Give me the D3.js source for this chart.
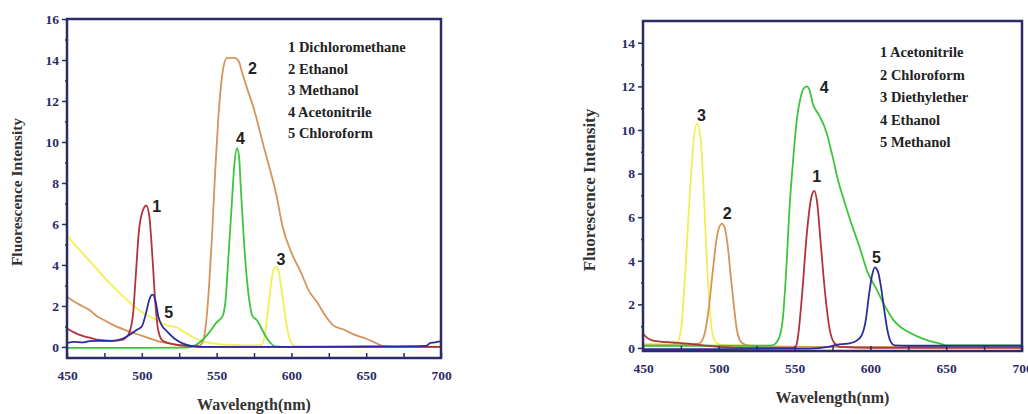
<!DOCTYPE html>
<html>
<head>
<meta charset="utf-8">
<script src="https://cdn.jsdelivr.net/npm/d3@7"></script>
<style>
  body { margin: 0; background: #fff; }
  svg { display: block; }
  .tick text { font-family: "Liberation Serif", serif; font-weight: bold; font-size: 13.5px; fill: #2b2b66; }
</style>
</head>
<body>
<div id="chart"></div>
<script>
// wavelength (nm), intensity pairs

// left panel
const leftDichloromethane = [[450,0.9],[455,0.7],[460,0.55],[465,0.45],[470,0.35],[480,0.3],[487,0.35],[491,0.6],[494,1.5],[496,3.5],[498,5.6],[500,6.5],[503,6.9],[505,6.4],[507,4.5],[509,2.2],[511,0.8],[514,0.3],[520,0.15],[530,0.05],[540,0],[600,0],[700,0]];
const leftEthanol = [[450,2.45],[455,2.2],[460,2.0],[465,1.8],[470,1.5],[475,1.3],[480,1.1],[490,0.8],[500,0.55],[510,0.3],[520,0.15],[530,0.05],[538,0.05],[541,0.3],[543,1.2],[545,3],[547,5.5],[549,8.5],[551,11],[553,12.8],[555,13.8],[557,14.1],[562,14.1],[565,13.9],[567,13.4],[570,12.7],[575,11.6],[580,10.2],[584,9.1],[590,7.4],[594,5.9],[600,4.6],[606,3.7],[612,2.7],[617,2.2],[622,1.6],[628,1.05],[635,0.85],[642,0.6],[650,0.4],[655,0.25],[661,0.05],[670,0],[700,0]];
const leftMethanol = [[450,5.45],[455,5.0],[460,4.6],[470,3.8],[480,3.0],[490,2.3],[500,1.7],[510,1.3],[517,1.05],[524,0.93],[530,0.65],[535,0.45],[540,0.3],[550,0.15],[560,0.1],[570,0.08],[580,0.1],[582,0.5],[585,2.2],[587,3.4],[589,3.9],[591,3.8],[593,3.0],[595,2.0],[597,1.0],[599,0.35],[602,0.05],[610,0.03],[700,0.03]];
const leftAcetonitrile = [[450,-0.05],[500,-0.05],[530,-0.03],[535,0.05],[540,0.3],[545,0.7],[550,1.2],[554,1.5],[556,2.3],[558,4.5],[560,6.8],[562,9.0],[563.5,9.7],[565,9.3],[566,8],[568,5.5],[570,3.5],[572,2.2],[574,1.5],[577,1.3],[580,0.9],[583,0.5],[586,0.2],[589,0.03],[600,0],[700,0]];
const leftChloroform = [[450,0.2],[455,0.25],[460,0.22],[465,0.28],[470,0.3],[480,0.3],[487,0.4],[492,0.6],[497,0.85],[500,1.0],[503,1.7],[505,2.3],[507,2.55],[509,2.3],[511,1.5],[513,1.1],[517,0.75],[522,0.4],[528,0.15],[535,0.03],[545,0],[600,0],[650,0.02],[690,0.05],[693,0.2],[696,0.22],[700,0.28]];

// right panel
const rightAcetonitrile = [[450,0.65],[453,0.45],[456,0.35],[460,0.3],[470,0.25],[480,0.2],[490,0.12],[500,0.05],[520,0],[550,0],[552,0.4],[555,2.5],[558,5.2],[561,6.9],[563,7.2],[565,6.6],[567,5],[570,2.6],[573,0.9],[576,0.25],[580,0.05],[600,0],[700,0]];
const rightChloroform = [[450,0.12],[470,0.12],[480,0.15],[487,0.2],[490,0.5],[493,1.6],[496,3.5],[499,5.2],[502,5.7],[504,5.5],[506,4.6],[508,3.2],[510,1.9],[512,0.8],[515,0.25],[520,0.1],[550,0.05],[580,0.05],[700,0.05]];
const rightDiethylether = [[450,0.2],[465,0.18],[472,0.2],[475,0.8],[477,2.5],[479,4.8],[481,7.2],[483,9.2],[485.5,10.3],[488,9.6],[490,7.2],[492,4.2],[494,1.8],[496,0.6],[499,0.2],[505,0.12],[530,0.1],[560,0.05],[700,0.02]];
const rightEthanol = [[450,0.1],[500,0.1],[520,0.1],[535,0.12],[539,0.35],[542,1.2],[544,3],[547,6.8],[549,8.6],[551.5,10.5],[554,11.5],[556,11.9],[558,12.0],[560,11.8],[562,11.2],[566,10.7],[571,9.9],[575,8.8],[579,7.6],[582,6.9],[587,5.8],[593,4.6],[598,3.5],[604,2.7],[609,2.0],[615,1.3],[620,0.95],[626,0.7],[632,0.5],[640,0.3],[646,0.2],[650,0.12],[700,0.12]];
const rightMethanol = [[450,-0.05],[500,-0.05],[560,-0.03],[572,0.05],[578,0.15],[585,0.2],[590,0.3],[594,0.55],[597,1.3],[599,2.4],[601,3.3],[603,3.7],[605,3.5],[607,2.8],[609,1.8],[611,0.9],[613,0.35],[616,0.12],[625,0.1],[700,0.1]];

const leftLegend = ["1 Dichloromethane", "2 Ethanol", "3 Methanol", "4 Acetonitrile", "5 Chloroform"];
const rightLegend = ["1 Acetonitrile", "2 Chloroform", "3 Diethylether", "4 Ethanol", "5 Methanol"];

const xTicks = [450, 500, 550, 600, 650, 700];
const leftYTicks = [0, 2, 4, 6, 8, 10, 12, 14, 16];
const rightYTicks = [0, 2, 4, 6, 8, 10, 12, 14];

const colors = {
  red: "#b0343a",
  tan: "#d4945a",
  yellow: "#f2ee55",
  green: "#3ec43e",
  blue: "#2c2ca0"
};
const frameColor = "#2b2b66";

const svg = d3.select("#chart").append("svg")
  .attr("width", 1028)
  .attr("height", 414);

function drawPanel(cfg) {
  const x = d3.scaleLinear().domain([450, 700]).range([cfg.left, cfg.right]);
  const y = d3.scaleLinear().domain(cfg.yDomain).range([cfg.bottom, cfg.top]);
  const g = svg.append("g");

  // clip so curves stay inside the frame
  const clipId = "clip-" + cfg.id;
  g.append("clipPath").attr("id", clipId)
    .append("rect")
    .attr("x", cfg.left).attr("y", cfg.top)
    .attr("width", cfg.right - cfg.left).attr("height", cfg.bottom - cfg.top);

  const line = d3.line()
    .x(d => x(d[0]))
    .y(d => y(d[1]))
    .curve(d3.curveMonotoneX);

  const plot = g.append("g").attr("clip-path", `url(#${clipId})`);
  cfg.series.forEach(s => {
    plot.append("path")
      .datum(s.data)
      .attr("fill", "none")
      .attr("stroke", s.color)
      .attr("stroke-width", 1.8)
      .attr("stroke-linejoin", "round")
      .attr("d", line);
  });

  // x axis (ticks point inward)
  const xAxis = g.append("g")
    .attr("transform", `translate(0,${cfg.bottom})`)
    .call(d3.axisBottom(x).tickValues(d3.range(450, 701, 25)).tickSize(-5).tickPadding(12)
      .tickFormat(d => xTicks.includes(d) ? d : ""));
  xAxis.selectAll(".tick line").attr("stroke", frameColor).attr("stroke-width", 1.5);

  // y axis (ticks point outward)
  const yAxis = g.append("g")
    .attr("transform", `translate(${cfg.left},0)`)
    .call(d3.axisLeft(y).tickValues(d3.range(0, cfg.yTicks[cfg.yTicks.length - 1] + 1, 1))
      .tickSize(5).tickPadding(3)
      .tickFormat(d => cfg.yTicks.includes(d) ? d : ""));
  yAxis.selectAll(".tick line").attr("stroke", frameColor).attr("stroke-width", 1.5)
    .attr("x2", d => cfg.yTicks.includes(d) ? -5 : -2);

  g.selectAll(".domain").remove();

  // frame
  g.append("rect")
    .attr("x", cfg.left).attr("y", cfg.top)
    .attr("width", cfg.right - cfg.left).attr("height", cfg.bottom - cfg.top)
    .attr("fill", "none")
    .attr("stroke", frameColor)
    .attr("stroke-width", 2.5);

  // axis titles
  g.append("text")
    .attr("x", (cfg.left + cfg.right) / 2)
    .attr("y", cfg.xTitleY)
    .attr("text-anchor", "middle")
    .style("font-family", "Liberation Serif, serif")
    .style("font-weight", "bold")
    .style("font-size", "16px")
    .style("fill", "#333")
    .text("Wavelength(nm)");

  g.append("text")
    .attr("transform", `translate(${cfg.yTitleX},${cfg.yTitleMid}) rotate(-90)`)
    .attr("text-anchor", "middle")
    .style("font-family", "Liberation Serif, serif")
    .style("font-weight", "bold")
    .style("font-size", cfg.yTitleSize)
    .style("fill", "#333")
    .text("Fluorescence Intensity");

  // legend
  g.selectAll(".legend-item")
    .data(cfg.legend)
    .join("text")
    .attr("x", cfg.legendX)
    .attr("y", (d, i) => cfg.legendY + i * cfg.legendStep)
    .style("font-family", "Liberation Serif, serif")
    .style("font-weight", "bold")
    .style("font-size", "14.5px")
    .style("fill", "#222")
    .text(d => d);

  // peak numbers
  g.selectAll(".peak")
    .data(cfg.peaks)
    .join("text")
    .attr("x", d => x(d.nm))
    .attr("y", d => y(d.v))
    .attr("text-anchor", "middle")
    .style("font-family", "Liberation Sans, sans-serif")
    .style("font-weight", "bold")
    .style("font-size", "16px")
    .style("fill", "#222")
    .text(d => d.label);
}

drawPanel({
  id: "left",
  left: 67, right: 441, top: 19, bottom: 358,
  yDomain: [-0.54, 16],
  yTicks: leftYTicks,
  xTitleY: 410,
  yTitleX: 22, yTitleMid: 192, yTitleSize: "15.5px",
  legend: leftLegend, legendX: 288, legendY: 52, legendStep: 21.5,
  series: [
    { data: leftMethanol, color: colors.yellow },
    { data: leftEthanol, color: colors.tan },
    { data: leftAcetonitrile, color: colors.green },
    { data: leftDichloromethane, color: colors.red },
    { data: leftChloroform, color: colors.blue }
  ],
  peaks: [
    { label: "1", nm: 510, v: 6.6 },
    { label: "2", nm: 574, v: 13.3 },
    { label: "3", nm: 593, v: 4.0 },
    { label: "4", nm: 566, v: 9.9 },
    { label: "5", nm: 518, v: 1.4 }
  ]
});

drawPanel({
  id: "right",
  left: 643, right: 1022, top: 21, bottom: 351,
  yDomain: [-0.14, 15],
  yTicks: rightYTicks,
  xTitleY: 403,
  yTitleX: 595, yTitleMid: 190, yTitleSize: "17px",
  legend: rightLegend, legendX: 880, legendY: 57, legendStep: 22.5,
  series: [
    { data: rightDiethylether, color: colors.yellow },
    { data: rightChloroform, color: colors.tan },
    { data: rightEthanol, color: colors.green },
    { data: rightAcetonitrile, color: colors.red },
    { data: rightMethanol, color: colors.blue }
  ],
  peaks: [
    { label: "1", nm: 564.5, v: 7.6 },
    { label: "2", nm: 505.5, v: 5.9 },
    { label: "3", nm: 488.5, v: 10.4 },
    { label: "4", nm: 569.5, v: 11.7 },
    { label: "5", nm: 604, v: 3.9 }
  ]
});
</script>
</body>
</html>
